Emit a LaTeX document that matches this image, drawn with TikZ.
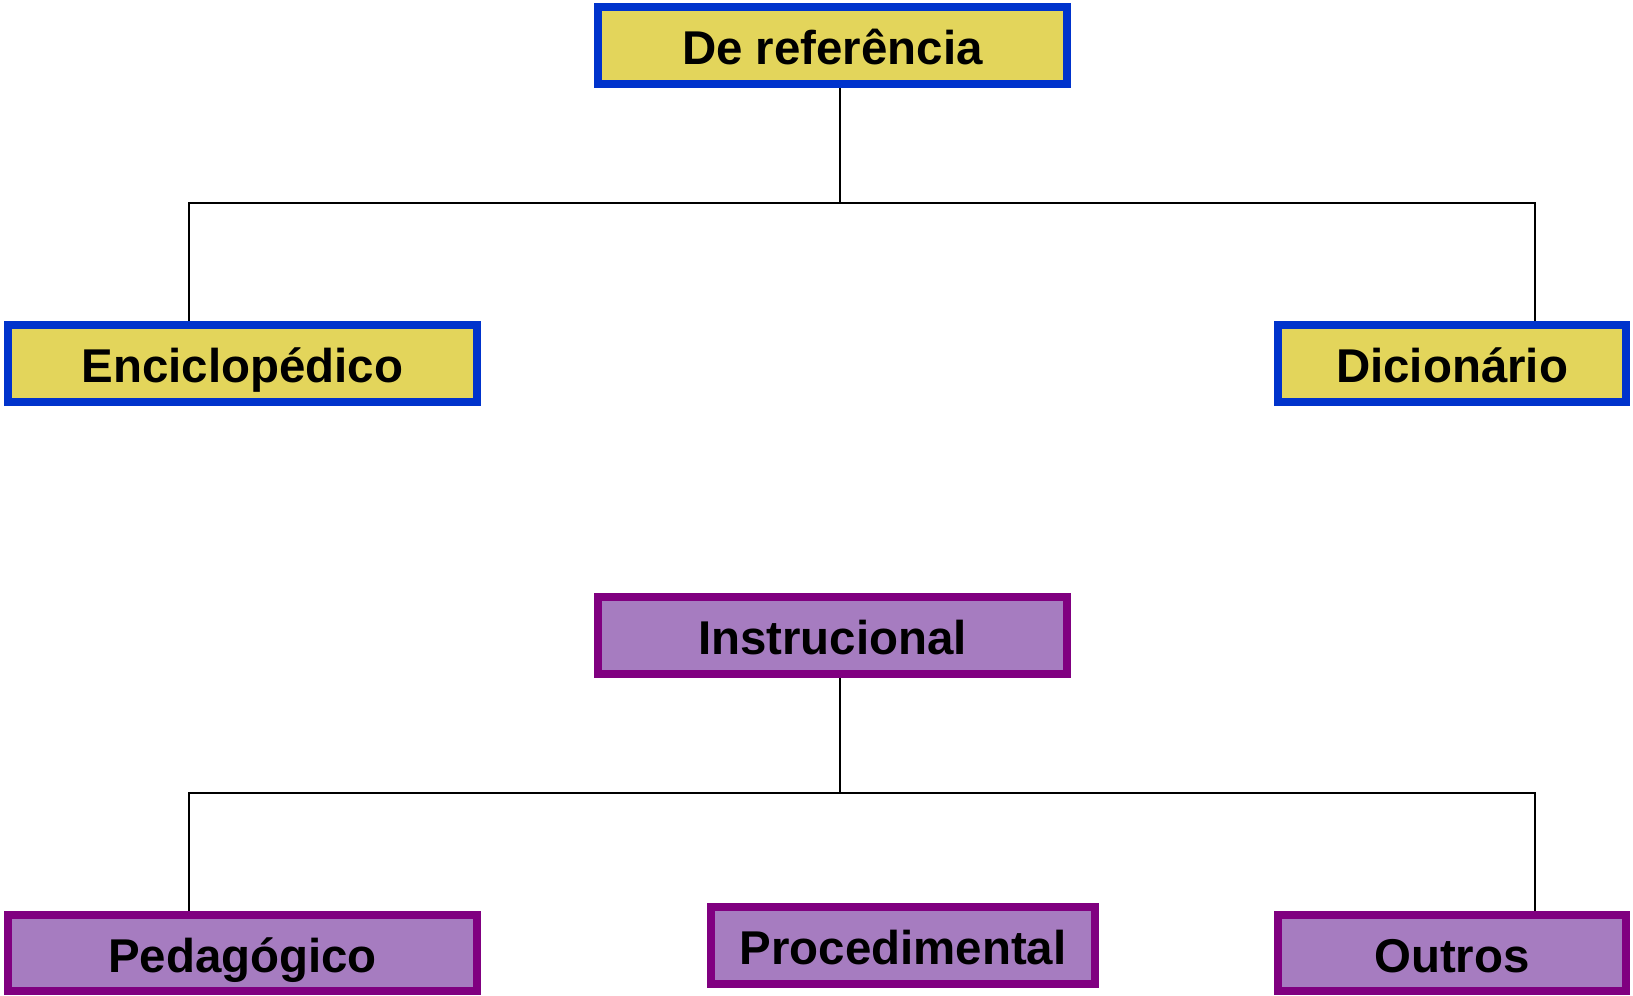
\documentclass[tikz,border=0pt]{standalone}
\usepackage{fontspec}
\setmainfont{Liberation Sans}
\usetikzlibrary{positioning}

\definecolor{refyellow}{HTML}{E3D55B}
\definecolor{refblue}{HTML}{0033CC}
\definecolor{insviolet}{HTML}{A67CC0}
\definecolor{inspurple}{HTML}{800080}

\tikzset{
	box/.style = {draw, line width=0.16cm, minimum height=1.54cm, inner sep=0pt,
		text height=0.76cm, text depth=0pt,
		font=\fontsize{27}{32}\selectfont\bfseries},
	refbox/.style = {box, draw=refblue, fill=refyellow},
	insbox/.style = {box, draw=inspurple, fill=insviolet},
	tie/.style = {line width=0.04cm},
}

\begin{document}
\begin{tikzpicture}[x=0.02cm, y=-0.02cm]
		\useasboundingbox (0,0) rectangle (1633,995);

		% De referencia
		\coordinate (rj) at (840,203);
		\coordinate (rl) at (189,203);
		\coordinate (rr) at (1535,203);
		\draw [tie] (rj |- 0,70) -- (rj);
		\draw [tie] (rl |- 0,330) -- (rl) -- (rr) -- (rr |- 0,330);
		\node [refbox, minimum width=9.38cm] (ref) at (832.5,45.5) {De referência};
		\node [refbox, minimum width=9.38cm] (enc) at (242.5,363.5) {Enciclopédico};
		\node [refbox, minimum width=6.96cm] (dic) at (1452,363.5) {Dicionário};

		% Instrucional
		\coordinate (ij) at (840,793);
		\coordinate (il) at (189,793);
		\coordinate (ir) at (1535,793);
		\draw [tie] (ij |- 0,660) -- (ij);
		\draw [tie] (il |- 0,920) -- (il) -- (ir) -- (ir |- 0,920);
		\node [insbox, minimum width=9.38cm] (ins) at (832.5,635.5) {Instrucional};
		\node [insbox, minimum width=9.38cm, minimum height=1.52cm] (ped) at (242.5,953) {Pedagógico};
		\node [insbox, minimum width=7.68cm] (pro) at (903,945.5) {Procedimental};
		\node [insbox, minimum width=6.96cm, minimum height=1.52cm] (out) at (1452,953) {Outros};
\end{tikzpicture}
\end{document}
